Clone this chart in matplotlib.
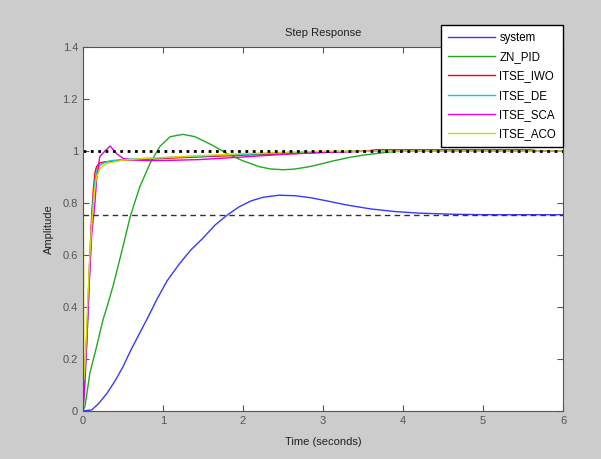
import numpy as np
import matplotlib.pyplot as plt

plt.rcParams['font.family'] = ['Liberation Sans', 'DejaVu Sans']

# step responses (time in s, amplitude)
t_sys = [0, 0.05, 0.11, 0.2, 0.3, 0.4, 0.5, 0.6, 0.71, 0.82, 0.92, 1.05, 1.21, 1.35, 1.5, 1.65, 1.8, 1.95,
         2.1, 2.25, 2.45, 2.65, 2.85, 3.05, 3.3, 3.6, 3.9, 4.2, 4.6, 5.0, 5.5, 6.0]
y_sys = [0, 0.002, 0.004, 0.03, 0.068, 0.115, 0.17, 0.235, 0.30, 0.365, 0.427, 0.50, 0.568, 0.62, 0.665,
         0.715, 0.753, 0.785, 0.808, 0.822, 0.83, 0.828, 0.82, 0.808, 0.792, 0.777, 0.767, 0.761, 0.757,
         0.755, 0.755, 0.755]

t_zn = [0, 0.025, 0.087, 0.17, 0.25, 0.31, 0.38, 0.5, 0.59, 0.71, 0.84, 0.96, 1.09, 1.25, 1.4, 1.6, 1.8, 2.0,
        2.2, 2.34, 2.5, 2.63, 2.8, 2.92, 3.1, 3.34, 3.5, 3.71, 3.9, 4.2, 5.0, 6.0]
y_zn = [0, 0.017, 0.146, 0.247, 0.35, 0.41, 0.485, 0.632, 0.747, 0.862, 0.953, 1.017, 1.055, 1.064, 1.055,
        1.025, 0.99, 0.962, 0.94, 0.931, 0.928, 0.930, 0.938, 0.946, 0.96, 0.976, 0.984, 0.992, 0.998, 1.0,
        1.001, 1.0]

t_iwo = [0, 0.02, 0.05, 0.08, 0.11, 0.13, 0.15, 0.17, 0.21, 0.27, 0.34, 0.5, 0.84, 1.2, 1.6, 2.09, 2.71, 3.34,
         4.0, 5.0, 6.0]
y_iwo = [0, 0.12, 0.3, 0.55, 0.76, 0.85, 0.915, 0.94, 0.954, 0.958, 0.96, 0.965, 0.969, 0.974, 0.979, 0.985,
         0.991, 0.998, 1.0, 1.0, 1.0]

t_de = [0, 0.02, 0.05, 0.08, 0.11, 0.13, 0.15, 0.17, 0.21, 0.27, 0.34, 0.5, 0.84, 1.2, 1.6, 2.09, 2.71, 3.34,
        4.0, 5.0, 6.0]
y_de = [0, 0.1, 0.27, 0.5, 0.72, 0.82, 0.885, 0.92, 0.945, 0.955, 0.962, 0.968, 0.972, 0.977, 0.982, 0.988,
        0.994, 0.999, 1.0, 1.0, 1.0]

t_sca = [0, 0.02, 0.05, 0.08, 0.11, 0.15, 0.17, 0.21, 0.275, 0.34, 0.42, 0.5, 0.6, 0.8, 1.1, 1.46, 2.0, 2.5,
         3.0, 3.5, 3.67, 5.59, 5.7, 6.0]
y_sca = [0, 0.08, 0.28, 0.5, 0.68, 0.8, 0.888, 0.978, 1.0, 1.019, 0.99, 0.972, 0.966, 0.963, 0.964, 0.967,
         0.977, 0.987, 0.995, 0.999, 1.005, 1.005, 1.0, 1.0]

t_aco = [0, 0.004, 0.012, 0.03, 0.06, 0.09, 0.12, 0.15, 0.17, 0.21, 0.27, 0.34, 0.5, 0.8, 1.2, 1.6, 2.0, 2.5,
         3.0, 4.0, 5.0, 6.0]
y_aco = [0, 1.0, 0.12, 0.2, 0.42, 0.62, 0.76, 0.86, 0.90, 0.93, 0.948, 0.955, 0.965, 0.972, 0.978, 0.984,
         0.99, 0.995, 0.999, 1.0, 1.0, 1.0]

final_values = [1.0, 0.755]

series = [(t_sys, y_sys, '#3838ff', 'system'),
          (t_zn, y_zn, '#1faa1f', 'ZN_PID'),
          (t_iwo, y_iwo, '#ff0000', 'ITSE_IWO'),
          (t_de, y_de, '#00d0d0', 'ITSE_DE'),
          (t_sca, y_sca, '#e000e0', 'ITSE_SCA'),
          (t_aco, y_aco, '#d8d800', 'ITSE_ACO')]

fig = plt.figure(figsize=(6.01, 4.59), dpi=100, facecolor='#cccccc')
ax = fig.add_axes([0.138, 0.1046, 0.799, 0.793])
ax.set_facecolor('white')

for t, y, c, name in series:
    ax.plot(t, y, color=c, lw=1, label=name)

ax.axhline(final_values[0], color='black', ls=':', lw=2)
ax.axhline(final_values[1], color='#333333', ls='--', lw=1, dashes=(4, 3))

ax.set_xlim(0, 6)
ax.set_ylim(0, 1.4)
ax.set_xticks(range(0, 7))
ax.set_yticks([0, 0.2, 0.4, 0.6, 0.8, 1.0, 1.2, 1.4])
ax.set_yticklabels(['0', '0.2', '0.4', '0.6', '0.8', '1', '1.2', '1.4'])
ax.tick_params(direction='in', top=True, right=True, labelsize=8, colors='#555555', length=4)
for s in ax.spines.values():
    s.set_color('#555555')

ax.set_title('Step Response', fontsize=8, color='#222222', pad=8)
ax.set_xlabel('Time (seconds)', fontsize=8, color='#222222', labelpad=8)
ax.set_ylabel('Amplitude', fontsize=8, color='#222222', labelpad=6)

leg = ax.legend(loc='upper right', bbox_to_anchor=(0.937, 0.9455), bbox_transform=fig.transFigure,
                borderaxespad=0, fontsize=8.3, handlelength=4.1, handletextpad=0.4, labelspacing=0.63,
                fancybox=False, framealpha=1, edgecolor='black', borderpad=0.6)
leg.get_frame().set_linewidth(1)

plt.savefig('out.png', facecolor=fig.get_facecolor())
